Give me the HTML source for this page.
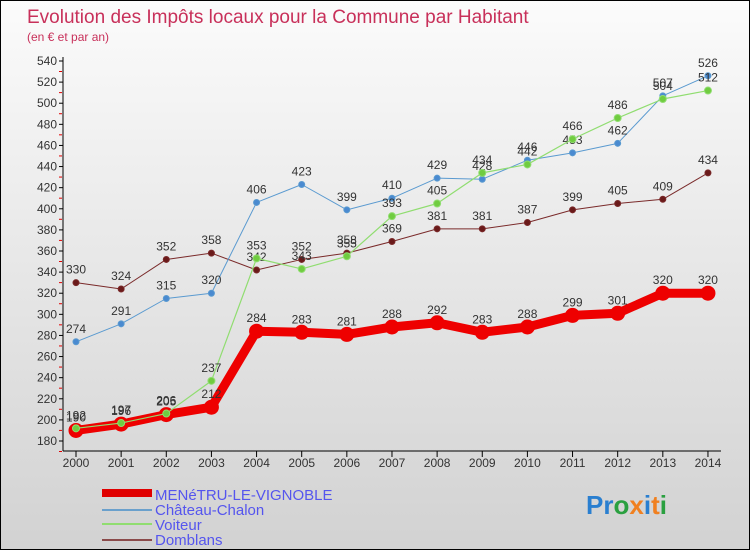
<!DOCTYPE html>
<html><head><meta charset="utf-8"><style>
body{margin:0}
#c{width:748px;height:548px;border:1px solid #000;background:linear-gradient(#fbfbfb,#d2d2d2);position:relative;font-family:"Liberation Sans",sans-serif;overflow:hidden}
</style></head><body>
<div id="c">
<svg id="s" width="748" height="548" style="position:absolute;left:0;top:0">
<text x="26" y="22" font-size="19" fill="#c8305a">Evolution des Impôts locaux pour la Commune par Habitant</text>
<text x="26" y="40" font-size="12" fill="#c8305a">(en € et par an)</text>
<g id="ax"></g><g id="sr"></g>
<g>
<rect x="101" y="488" width="50" height="8" fill="#e00000"/>
<text x="154" y="499" font-size="15" fill="#5555ee">MENéTRU-LE-VIGNOBLE</text>
<rect x="101" y="508" width="50" height="2" fill="#6aa0cc"/>
<text x="154" y="514" font-size="15" fill="#5555ee">Château-Chalon</text>
<rect x="101" y="522" width="50" height="2" fill="#90dd70"/>
<text x="154" y="529" font-size="15" fill="#5555ee">Voiteur</text>
<rect x="101" y="538" width="50" height="2" fill="#8a4a4a"/>
<text x="154" y="544" font-size="15" fill="#5555ee">Domblans</text>
</g>
<text x="585" y="513" font-size="26" font-weight="bold"><tspan fill="#2a7fd0">Pr</tspan><tspan fill="#2aa040">o</tspan><tspan fill="#f08020">x</tspan><tspan fill="#2a7fd0">i</tspan><tspan fill="#f08020">t</tspan><tspan fill="#2aa040">i</tspan></text>
</svg>
</div>
<script>
const years=[2000,2001,2002,2003,2004,2005,2006,2007,2008,2009,2010,2011,2012,2013,2014];
const yTicks=[180,200,220,240,260,280,300,320,340,360,380,400,420,440,460,480,500,520,540];
const menetru=[190,196,205,212,284,283,281,288,292,283,288,299,301,320,320];
const chateau=[274,291,315,320,406,423,399,410,429,428,446,453,462,507,526];
const voiteur=[192,197,206,237,353,343,355,393,405,434,442,466,486,504,512];
const domblans=[330,324,352,358,342,352,358,369,381,381,387,399,405,409,434];
const NS="http://www.w3.org/2000/svg";
const X=i=>75+i*45.14, Y=v=>60+(540-v)*380/360;
function mk(tag,attrs,parent){const e=document.createElementNS(NS,tag);for(const k in attrs)e.setAttribute(k,attrs[k]);parent.appendChild(e);return e;}
const ax=document.getElementById('ax'), sr=document.getElementById('sr');
let l=mk('line',{x1:62,y1:56,x2:62,y2:450,stroke:'#000'},ax);


l=mk('line',{x1:62,y1:450,x2:720,y2:450,stroke:'#000'},ax);


yTicks.forEach(v=>{
 mk('line',{x1:58,y1:Y(v),x2:62,y2:Y(v),stroke:'#000'},ax);
 mk('line',{x1:58,y1:Y(v)+10.5,x2:61,y2:Y(v)+10.5,stroke:'#e00000'},ax);
 const t=mk('text',{x:56,y:Y(v)+4,'font-size':12,'text-anchor':'end',fill:'#333'},ax);t.textContent=v;
 
 
});
years.forEach((yr,i)=>{
 mk('line',{x1:X(i),y1:450,x2:X(i),y2:456,stroke:'#000'},ax);
 const t=mk('text',{x:X(i),y:466,'font-size':12,'text-anchor':'middle',fill:'#333'},ax);t.textContent=yr;
 
 
});
function series(data,color,w,r,name,fillc){
 const g=mk('g',{},sr);
 
 
 mk('polyline',{points:data.map((v,i)=>X(i)+','+Y(v)).join(' '),fill:'none',stroke:color,'stroke-width':w,'stroke-linejoin':'round'},g);
 data.forEach((v,i)=>{
  const c=mk('circle',{cx:X(i),cy:Y(v),r:r,fill:fillc,stroke:color,'stroke-width':1},g);
  
  
  const t=mk('text',{x:X(i),y:Y(v)-9,'font-size':12,'text-anchor':'middle',fill:'#333'},g);t.textContent=v;
  
  
 });
}
series(domblans,'#7a2a2a',1,3,'domblans','#6a1a1a');
series(chateau,'#5a9ad0',1,3,'chateau','#4a8ad0');
series(menetru,'#ee0000',9,7,'menetru','#ee0000');
series(voiteur,'#90dd70',1.2,3.5,'voiteur','#70cc40');
</script>
</body></html>
